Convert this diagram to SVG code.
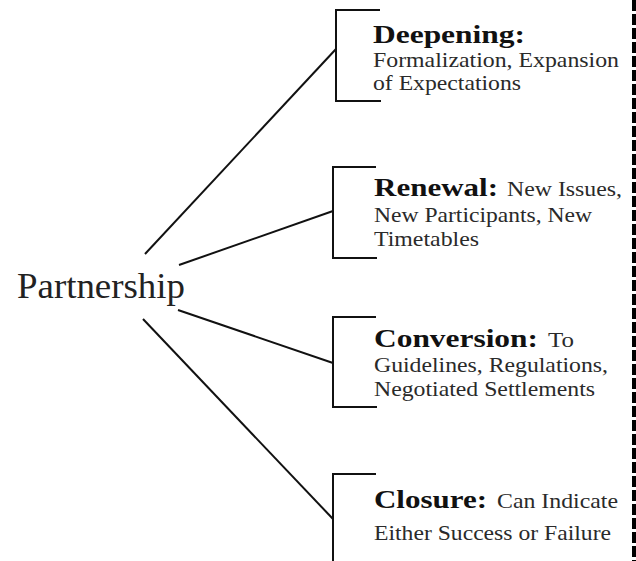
<svg xmlns="http://www.w3.org/2000/svg" width="636" height="561" viewBox="0 0 636 561">
<style>
.bg{fill:#ffffff}
.br{fill:none;stroke:#111;stroke-width:2}
.cn{fill:none;stroke:#111;stroke-width:2}
text{font-family:"Liberation Serif","DejaVu Serif",serif}
.b{font-weight:bold;font-size:26px;fill:#111}
.r{font-size:21px;fill:#2a2a2a}
.p{font-size:36px;fill:#222}
.dash{stroke:#000;stroke-width:4;stroke-dasharray:11 3}
</style>
<rect class="bg" x="0" y="0" width="636" height="561"/>
<line class="dash" x1="634" y1="0" x2="634" y2="561"/>
<g id="connectors">
<line class="cn" x1="145" y1="254" x2="336" y2="49"/>
<line class="cn" x1="179" y1="265" x2="333" y2="211"/>
<line class="cn" x1="178" y1="310" x2="333" y2="363"/>
<line class="cn" x1="143" y1="319" x2="333" y2="519"/>
</g>
<g id="partnership">
<text class="p" x="17" y="298" textLength="168" lengthAdjust="spacingAndGlyphs">Partnership</text>
</g>
<g id="deepening">
<path class="br" d="M380,10 H336 V101 H381"/>
<text class="b" x="373" y="43" textLength="152" lengthAdjust="spacingAndGlyphs">Deepening:</text>
<text class="r" x="373" y="67" textLength="246" lengthAdjust="spacingAndGlyphs">Formalization, Expansion</text>
<text class="r" x="373" y="90" textLength="148" lengthAdjust="spacingAndGlyphs">of Expectations</text>
</g>
<g id="renewal">
<path class="br" d="M376,167 H333 V258 H377"/>
<text class="b" x="374" y="196" textLength="124" lengthAdjust="spacingAndGlyphs">Renewal:</text>
<text class="r" x="507" y="196" textLength="115" lengthAdjust="spacingAndGlyphs">New Issues,</text>
<text class="r" x="374" y="222" textLength="218" lengthAdjust="spacingAndGlyphs">New Participants, New</text>
<text class="r" x="374" y="246" textLength="105" lengthAdjust="spacingAndGlyphs">Timetables</text>
</g>
<g id="conversion">
<path class="br" d="M376,317 H333 V407 H377"/>
<text class="b" x="374" y="347" textLength="164" lengthAdjust="spacingAndGlyphs">Conversion:</text>
<text class="r" x="548" y="347" textLength="26" lengthAdjust="spacingAndGlyphs">To</text>
<text class="r" x="374" y="372" textLength="234" lengthAdjust="spacingAndGlyphs">Guidelines, Regulations,</text>
<text class="r" x="374" y="396" textLength="221" lengthAdjust="spacingAndGlyphs">Negotiated Settlements</text>
</g>
<g id="closure">
<path class="br" d="M376,474 H333 V561"/>
<text class="b" x="374" y="508" textLength="113" lengthAdjust="spacingAndGlyphs">Closure:</text>
<text class="r" x="497" y="508" textLength="121" lengthAdjust="spacingAndGlyphs">Can Indicate</text>
<text class="r" x="374" y="540" textLength="237" lengthAdjust="spacingAndGlyphs">Either Success or Failure</text>
</g>
</svg>
